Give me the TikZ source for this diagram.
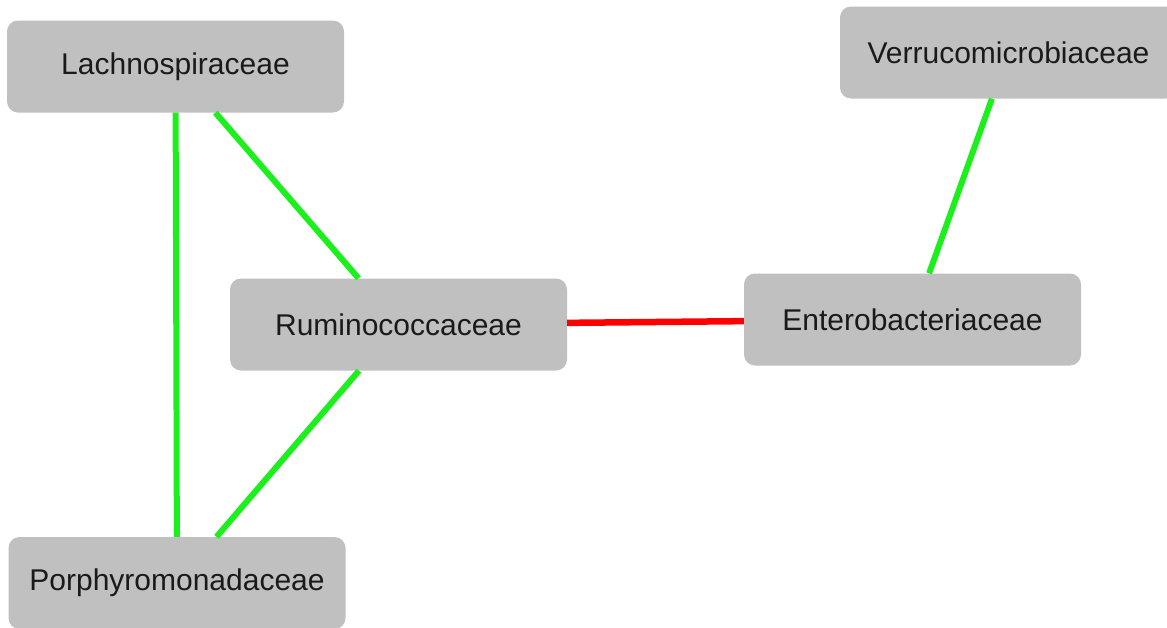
\documentclass[tikz,border=0pt]{standalone}
\usepackage{fontspec}
\setmainfont{Liberation Sans}
\definecolor{boxgray}{HTML}{C0C0C0}
\definecolor{edgegreen}{HTML}{1CF01C}
\definecolor{edgered}{HTML}{FF0000}
\definecolor{txt}{HTML}{1A1A1A}
\tikzset{
  famnode/.style={fill=boxgray, draw=none, rounded corners=11pt, minimum width=337pt, minimum height=92pt, inner sep=0pt, text=txt, font=\fontsize{30}{36}\selectfont},
  posedge/.style={draw=edgegreen, line width=6pt},
  negedge/.style={draw=edgered, line width=6.5pt}
}
\begin{document}
\begin{tikzpicture}[x=1pt, y=-1pt]
\useasboundingbox (0,0) rectangle (1167,627);
\clip (0,0) rectangle (1167,627);
\fill[white] (0,0) rectangle (1167,627);
\node[famnode] (lach) at (175.5,66.5) {Lachnospiraceae};
\node[famnode] (verr) at (1008.5,52.5) {Verrucomicrobiaceae};
\node[famnode] (rumi) at (398.5,324.5) {Ruminococcaceae};
\node[famnode] (ente) at (912.5,319.5) {Enterobacteriaceae};
\node[famnode] (porp) at (177,583) {Porphyromonadaceae};
\draw[posedge] (lach) -- (porp);
\draw[posedge] (lach) -- (rumi);
\draw[posedge] (rumi) -- (porp);
\draw[negedge] (rumi) -- (ente);
\draw[posedge] (verr) -- (ente);
\end{tikzpicture}
\end{document}
